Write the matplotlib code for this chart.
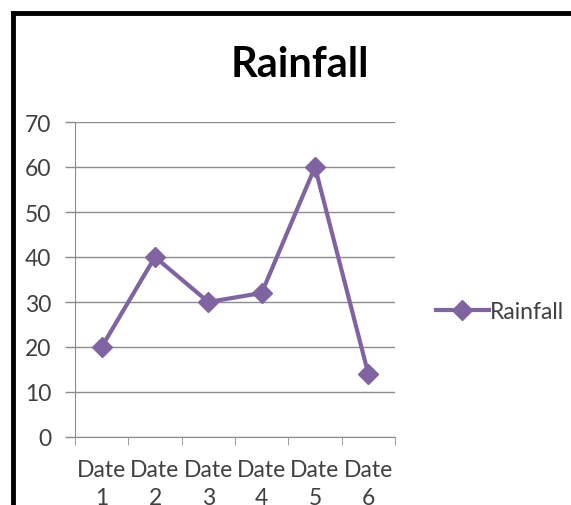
import matplotlib.pyplot as plt
from matplotlib.lines import Line2D
import numpy as np

plt.rcParams['font.family'] = ['Lato', 'DejaVu Sans']

dates = ["Date\n1", "Date\n2", "Date\n3", "Date\n4", "Date\n5", "Date\n6"]
rainfall = [20, 40, 30, 32, 60, 14]
y_ticks = [0, 10, 20, 30, 40, 50, 60, 70]

W, H = 571, 506
fig = plt.figure(figsize=(W / 100, H / 100), dpi=100)
ax = fig.add_axes([75 / W, 1 - 438 / H, (395 - 75) / W, (438 - 123) / H])

purple = "#8064A2"
grey = "#8c8c8c"
text_col = "#404040"

x = np.arange(len(rainfall))
ax.plot(x, rainfall, color=purple, lw=3, marker="D", ms=10, label="Rainfall")

ax.set_xlim(-0.5, len(rainfall) - 0.5)
ax.set_ylim(0, 70)
ax.set_yticks(y_ticks)
ax.grid(axis="y", color=grey, lw=1)
ax.set_axisbelow(True)

ax.set_xticks(x)
ax.set_xticklabels(dates, linespacing=1.4)
ax.set_xticks(np.arange(-0.5, len(rainfall)), minor=True)
ax.tick_params(axis="x", which="major", length=0, pad=16, labelsize=16.5, labelcolor=text_col)
ax.tick_params(axis="x", which="minor", length=6, color=grey, direction="out")
ax.tick_params(axis="y", length=7, color=grey, width=1, labelsize=16.5, labelcolor=text_col, pad=10)

for s in ["top", "right"]:
    ax.spines[s].set_visible(False)
for s in ["left", "bottom"]:
    ax.spines[s].set_color(grey)

fig.text(300 / W, 1 - 65 / H, "Rainfall", ha="center", va="center",
         fontsize=30, fontweight="bold", color="black")

ax.legend(loc="center left", bbox_to_anchor=(420 / W, 1 - 313 / H),
          bbox_transform=fig.transFigure, frameon=False, fontsize=16.5,
          handlelength=2.3, handletextpad=0.05, borderpad=0.2, labelcolor=text_col)

# black frame around the chart
fig.add_artist(Line2D([13 / W, 1], [1 - 14 / H, 1 - 14 / H], color="black", lw=3.5,
                      transform=fig.transFigure))
fig.add_artist(Line2D([13 / W, 13 / W], [0, 1 - 14 / H], color="black", lw=3.5,
                      transform=fig.transFigure))

fig.savefig("out.png", dpi=100)
